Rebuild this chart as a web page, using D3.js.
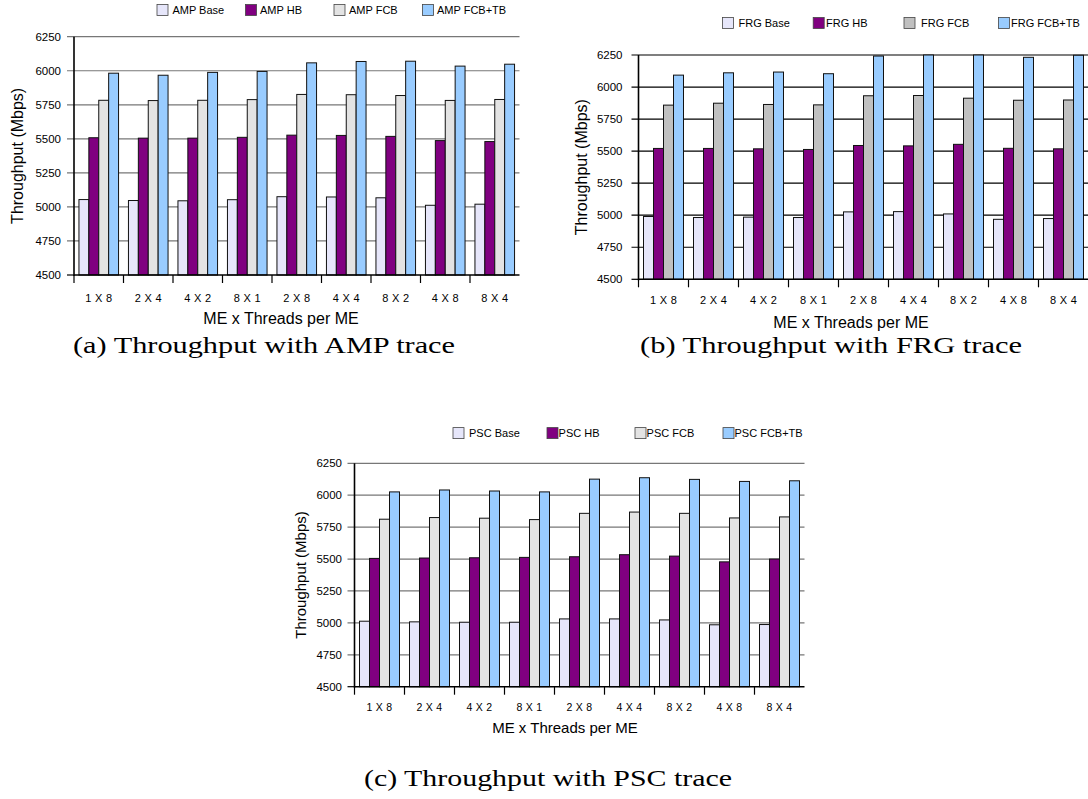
<!DOCTYPE html>
<html>
<head>
<meta charset="utf-8">
<script src="https://cdn.jsdelivr.net/npm/d3@7"></script>
<style>
  html, body { margin: 0; padding: 0; background: #fff; }
  svg { display: block; }
  text { font-family: "Liberation Sans", Arial, sans-serif; fill: #000; }
  .cap { font-family: "Liberation Serif", "Times New Roman", serif; }
</style>
</head>
<body>
<script>
// ---------------- DATA ----------------
const categories = ["1 X 8", "2 X 4", "4 X 2", "8 X 1", "2 X 8", "4 X 4", "8 X 2", "4 X 8", "8 X 4"];
const yTicks = [4500, 4750, 5000, 5250, 5500, 5750, 6000, 6250];

const ampSeries = ["AMP Base", "AMP HB", "AMP FCB", "AMP FCB+TB"];
const ampBase  = [5054, 5047, 5045, 5053, 5075, 5073, 5067, 5012, 5020];
const ampHB    = [5508, 5505, 5505, 5511, 5527, 5525, 5518, 5487, 5480];
const ampFCB   = [5783, 5781, 5783, 5788, 5826, 5824, 5818, 5782, 5789];
const ampFCBTB = [5982, 5967, 5988, 5995, 6058, 6068, 6070, 6034, 6048];

const frgSeries = ["FRG Base", "FRG HB", "FRG FCB", "FRG FCB+TB"];
const frgBase  = [4990, 4982, 4985, 4982, 5026, 5028, 5010, 4968, 4974];
const frgHB    = [5521, 5521, 5518, 5513, 5544, 5541, 5553, 5522, 5518];
const frgFCB   = [5859, 5874, 5864, 5861, 5932, 5934, 5913, 5897, 5899];
const frgFCBTB = [6093, 6111, 6117, 6104, 6242, 6255, 6252, 6232, 6248];

const pscSeries = ["PSC Base", "PSC HB", "PSC FCB", "PSC FCB+TB"];
const pscBase  = [5013, 5008, 5005, 5005, 5031, 5031, 5023, 4985, 4987];
const pscHB    = [5505, 5508, 5510, 5513, 5518, 5534, 5523, 5478, 5500];
const pscFCB   = [5812, 5825, 5820, 5809, 5858, 5868, 5858, 5822, 5830];
const pscFCBTB = [6026, 6041, 6033, 6026, 6126, 6137, 6124, 6108, 6113];

const captions = ["(a) Throughput with AMP trace", "(b) Throughput with FRG trace", "(c) Throughput with PSC trace"];
const yTitle = "Throughput (Mbps)";
const xTitle = "ME x Threads per ME";

// ---------------- DRAW ----------------
const W = 1088, H = 799;
const svg = d3.select("body").append("svg").attr("width", W).attr("height", H);

function drawPanel(p) {
  const g = svg.append("g");
  const x = d3.scaleBand().domain(categories).range([p.x0, p.x1]).paddingInner(0).paddingOuter(0);
  const bw = x.bandwidth();
  const xs = d3.scaleBand().domain(p.series).range([bw * 0.1, bw * 0.9]).padding(0);
  const y = d3.scaleLinear().domain([4500, 6250]).range([p.yBot, p.yTop]).clamp(true);

  // gridlines (extend left as tick marks)
  g.append("g").selectAll("line").data(yTicks.slice(1)).join("line")
    .attr("x1", p.x0 - 7).attr("x2", p.x1)
    .attr("y1", d => y(d)).attr("y2", d => y(d))
    .attr("stroke", p.grid).attr("stroke-width", 1.2);
  g.append("line").attr("x1", p.x0 - 7).attr("x2", p.x0).attr("y1", y(4500)).attr("y2", y(4500))
    .attr("stroke", "#000").attr("stroke-width", 1.2);

  // y tick labels
  g.append("g").selectAll("text").data(yTicks).join("text")
    .attr("x", p.x0 - p.labGap).attr("y", d => y(d))
    .attr("text-anchor", "end").attr("dominant-baseline", "central")
    .style("font-size", p.yFont + "px").text(d => d);

  // bars
  const values = p.values;
  const groups = g.append("g").selectAll("g").data(categories).join("g")
    .attr("transform", d => `translate(${x(d)},0)`);
  groups.selectAll("rect").data((c, i) => p.series.map((s, k) => ({ s, k, v: values[k][i] })))
    .join("rect")
    .attr("x", d => xs(d.s)).attr("width", xs.bandwidth())
    .attr("y", d => y(d.v)).attr("height", d => y(4500) - y(d.v))
    .attr("fill", d => p.colors[d.k]).attr("stroke", "#111").attr("stroke-width", 1);

  // axes lines
  g.append("line").attr("x1", p.x0).attr("x2", p.x0).attr("y1", p.yTop).attr("y2", p.yBot + 1)
    .attr("stroke", "#000").attr("stroke-width", 1.6);
  g.append("line").attr("x1", p.x0).attr("x2", p.x1).attr("y1", p.yBot).attr("y2", p.yBot)
    .attr("stroke", "#000").attr("stroke-width", 1.6);
  const bounds = categories.map(c => x(c));
  g.append("g").selectAll("line").data(bounds).join("line")
    .attr("x1", d => d).attr("x2", d => d).attr("y1", p.yBot).attr("y2", p.yBot + 8)
    .attr("stroke", "#000").attr("stroke-width", 1.2);

  // x tick labels
  g.append("g").selectAll("text").data(categories).join("text")
    .attr("x", d => x(d) + bw / 2).attr("y", p.xLabY)
    .attr("text-anchor", "middle").style("font-size", p.xFont + "px")
    .style("letter-spacing", "0.3px").text(d => d);

  // axis titles
  g.append("text").attr("x", p.xTitleX).attr("y", p.xTitleY).attr("text-anchor", "middle")
    .style("font-size", p.titleFont + "px").text(xTitle);
  g.append("text").attr("transform", `translate(${p.yTitleX},${(p.yTop + p.yBot) / 2}) rotate(-90)`)
    .attr("text-anchor", "middle").attr("dominant-baseline", "central")
    .style("font-size", p.titleFont + "px").text(yTitle);

  // legend
  const lg = g.append("g");
  p.series.forEach((s, k) => {
    lg.append("rect").attr("x", p.legBox[k]).attr("y", p.legY).attr("width", 11).attr("height", 11)
      .attr("fill", p.colors[k]).attr("stroke", "#444").attr("stroke-width", 0.8);
    lg.append("text").attr("x", p.legText[k]).attr("y", p.legY + 5.5).attr("dominant-baseline", "central")
      .style("font-size", "11px").text(s);
  });

  // caption
  svg.append("text").attr("class", "cap").attr("x", p.capX).attr("y", p.capY)
    .attr("textLength", p.capW).attr("lengthAdjust", "spacingAndGlyphs")
    .style("font-size", "24px").text(p.caption);
}

drawPanel({
  series: ampSeries, values: [ampBase, ampHB, ampFCB, ampFCBTB],
  colors: ["#E6E6FA", "#800080", "#E3E3E3", "#99CCFF"], grid: "#777",
  x0: 74, x1: 519.5, yTop: 36.7, yBot: 275,
  labGap: 13, yFont: 11.5, xFont: 11, xLabY: 302,
  titleFont: 16, xTitleX: 281, xTitleY: 324, yTitleX: 17,
  legBox: [157, 245.5, 334, 422.5], legText: [172.4, 260, 349, 437], legY: 4.5,
  caption: captions[0], capX: 73, capY: 353, capW: 382
});
drawPanel({
  series: frgSeries, values: [frgBase, frgHB, frgFCB, frgFCBTB],
  colors: ["#E6E6FA", "#800080", "#C0C0C0", "#99CCFF"], grid: "#000",
  x0: 638.5, x1: 1088.5, yTop: 55, yBot: 279.3,
  labGap: 16, yFont: 11.5, xFont: 11, xLabY: 304,
  titleFont: 16, xTitleX: 851, xTitleY: 328, yTitleX: 581,
  legBox: [722.6, 813.2, 904, 998.4], legText: [738.5, 826, 921, 1011], legY: 17.5,
  caption: captions[1], capX: 640, capY: 353, capW: 382
});
drawPanel({
  series: pscSeries, values: [pscBase, pscHB, pscFCB, pscFCBTB],
  colors: ["#E6E6FA", "#800080", "#E3E3E3", "#99CCFF"], grid: "#777",
  x0: 354.5, x1: 804.5, yTop: 463.3, yBot: 686.7,
  labGap: 12.5, yFont: 11.5, xFont: 10.5, xLabY: 711,
  titleFont: 15, xTitleX: 565, xTitleY: 733, yTitleX: 300,
  legBox: [453, 547, 635, 723], legText: [469, 558.6, 646.6, 734.5], legY: 427.6,
  caption: captions[2], capX: 364, capY: 786, capW: 368
});
</script>
</body>
</html>
